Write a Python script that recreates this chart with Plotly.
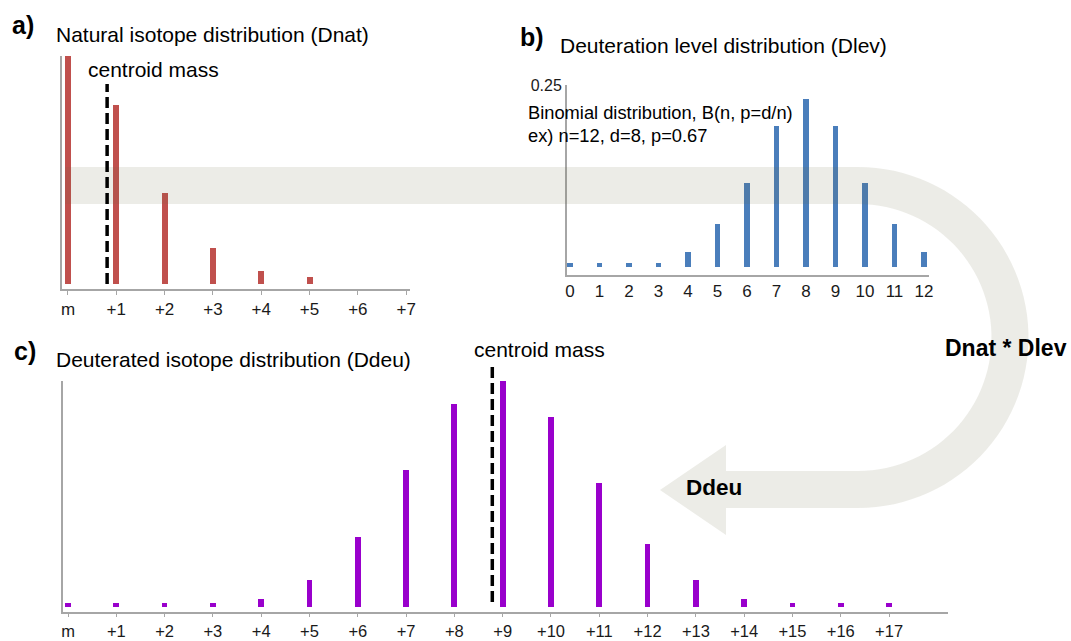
import numpy as np
import plotly.graph_objects as go

W, H = 1071, 641

# ---------------- data ----------------
nat_labels = ["m", "+1", "+2", "+3", "+4", "+5", "+6", "+7"]
nat_values = [1.0, 0.785, 0.40, 0.158, 0.057, 0.030, 0.0, 0.0]
nat_centroid = 0.81

lev_labels = [str(i) for i in range(13)]
lev_values = [0.0064, 0.0055, 0.0055, 0.0064, 0.0205, 0.060, 0.116,
              0.194, 0.231, 0.194, 0.116, 0.060, 0.0205]

deu_labels = ["m"] + ["+%d" % i for i in range(1, 18)]
deu_values = [0.016, 0.016, 0.016, 0.016, 0.034, 0.117, 0.310, 0.605, 0.899,
              1.0, 0.842, 0.548, 0.280, 0.117, 0.034, 0.016, 0.016, 0.016]
deu_centroid = 8.785

RED = "#C0504D"
BLUE = "#4A7EBB"
PURPLE = "#9900CC"
AXIS = "#A6A6A6"
FONT = "Arial, Liberation Sans, sans-serif"


def fx(px):
    return px / W


def fy(py):
    return 1 - py / H


fig = go.Figure()

fig.add_trace(go.Bar(x=list(range(len(nat_values))), y=nat_values, width=0.124,
                     marker=dict(color=RED, line=dict(width=0)),
                     xaxis="x", yaxis="y", showlegend=False))
fig.add_trace(go.Bar(x=list(range(len(lev_values))), y=lev_values, width=0.2,
                     marker=dict(color=BLUE, line=dict(width=0)),
                     xaxis="x2", yaxis="y2", showlegend=False))
fig.add_trace(go.Bar(x=list(range(len(deu_values))), y=deu_values, width=0.12,
                     marker=dict(color=PURPLE, line=dict(width=0)),
                     xaxis="x3", yaxis="y3", showlegend=False))

common_x = dict(showgrid=False, zeroline=False, showline=True, linecolor=AXIS,
                linewidth=2, fixedrange=True, automargin=False)
common_y = dict(showgrid=False, zeroline=False, showline=True, linecolor=AXIS,
                linewidth=2, fixedrange=True, automargin=False)
tick_font = dict(family=FONT, size=17, color="#1a1a1a")

fig.update_layout(
    width=W, height=H,
    margin=dict(l=0, r=0, t=0, b=0, pad=0, autoexpand=False),
    paper_bgcolor="white", plot_bgcolor="rgba(0,0,0,0)",
    bargap=0,
    xaxis=dict(domain=[fx(62), fx(410)], range=[-0.124, 7.08], anchor="y",
               tickvals=list(range(8)), ticktext=nat_labels,
               ticks="outside", ticklen=4, tickcolor=AXIS, tickwidth=1,
               ticklabelstandoff=0, tickfont=tick_font, **common_x),
    yaxis=dict(domain=[fy(289), fy(56)], range=[-0.0219, 1.0], anchor="x",
               showticklabels=False, ticks="", **common_y),
    xaxis2=dict(domain=[fx(567), fx(929)], range=[-0.10, 12.17], anchor="y2",
                tickvals=list(range(13)), ticktext=lev_labels, ticks="",
                ticklabelstandoff=0, tickfont=tick_font, **common_x),
    yaxis2=dict(domain=[fy(275), fy(85)], range=[-0.0104, 0.25], anchor="x2",
                tickvals=[0.25], ticktext=["0.25"], ticks="",
                tickfont=dict(family=FONT, size=16, color="#1a1a1a"), **common_y),
    xaxis3=dict(domain=[fx(63), fx(948)], range=[-0.1035, 18.22], anchor="y3",
                tickvals=list(range(18)), ticktext=deu_labels,
                ticks="outside", ticklen=3, tickcolor=AXIS, tickwidth=1,
                ticklabelstandoff=0,
                tickfont=dict(family=FONT, size=16.5, color="#1a1a1a"), **common_x),
    yaxis3=dict(domain=[fy(612), fy(381)], range=[-0.0233, 1.0], anchor="x3",
                showticklabels=False, ticks="", **common_y),
)

# ---------------- big U-shaped arrow (decoration) ----------------
cx, cy = 858, 337.5
r_out, r_in = 170.5, 133.5
pts = [(65, 167), (cx, 167)]
for t in np.linspace(-np.pi / 2, np.pi / 2, 60):
    pts.append((cx + r_out * np.cos(t), cy + r_out * np.sin(t)))
pts += [(726, 508), (726, 535), (660, 490), (726, 445), (726, 471)]
for t in np.linspace(np.pi / 2, -np.pi / 2, 60):
    pts.append((cx + r_in * np.cos(t), cy + r_in * np.sin(t)))
pts += [(65, 204)]
path = "M " + " L ".join("%.5f,%.5f" % (fx(x), fy(y)) for x, y in pts) + " Z"
fig.add_shape(type="path", path=path, xref="paper", yref="paper",
              fillcolor="rgba(110,110,70,0.13)", line=dict(width=0), layer="above")

# ---------------- centroid lines ----------------
dash = "11px,5px"
fig.add_shape(type="line", xref="x", yref="y", x0=nat_centroid, x1=nat_centroid,
              y0=0, y1=0.877, line=dict(color="black", width=3.5, dash=dash))
fig.add_shape(type="line", xref="x3", yref="paper", x0=deu_centroid, x1=deu_centroid,
              y0=fy(602), y1=fy(363), line=dict(color="black", width=3.5, dash=dash))


def ann(text, x, y, size, bold=False, anchor="left"):
    fig.add_annotation(text=("<b>%s</b>" % text) if bold else text,
                       x=fx(x), y=fy(y), xref="paper", yref="paper",
                       xanchor=anchor, yanchor="middle", showarrow=False,
                       font=dict(family=FONT, size=size, color="black"))


ann("a)", 10, 25, 25, bold=True)
ann("Natural isotope distribution (Dnat)", 54, 34, 21)
ann("centroid mass", 86, 69, 21)
ann("b)", 518, 37, 25, bold=True)
ann("Deuteration level distribution (Dlev)", 558, 45, 21)
ann("Binomial distribution, B(n, p=d/n)", 526, 113, 18.3)
ann("ex) n=12, d=8, p=0.67", 526, 136, 18.3)
ann("c)", 12, 351, 25, bold=True)
ann("Deuterated isotope distribution (Ddeu)", 54, 359, 21)
ann("centroid mass", 472, 349, 21)
ann("Dnat * Dlev", 943, 348, 23, bold=True)
ann("Ddeu", 684, 487, 22.5, bold=True)

fig.write_html("out.html")
